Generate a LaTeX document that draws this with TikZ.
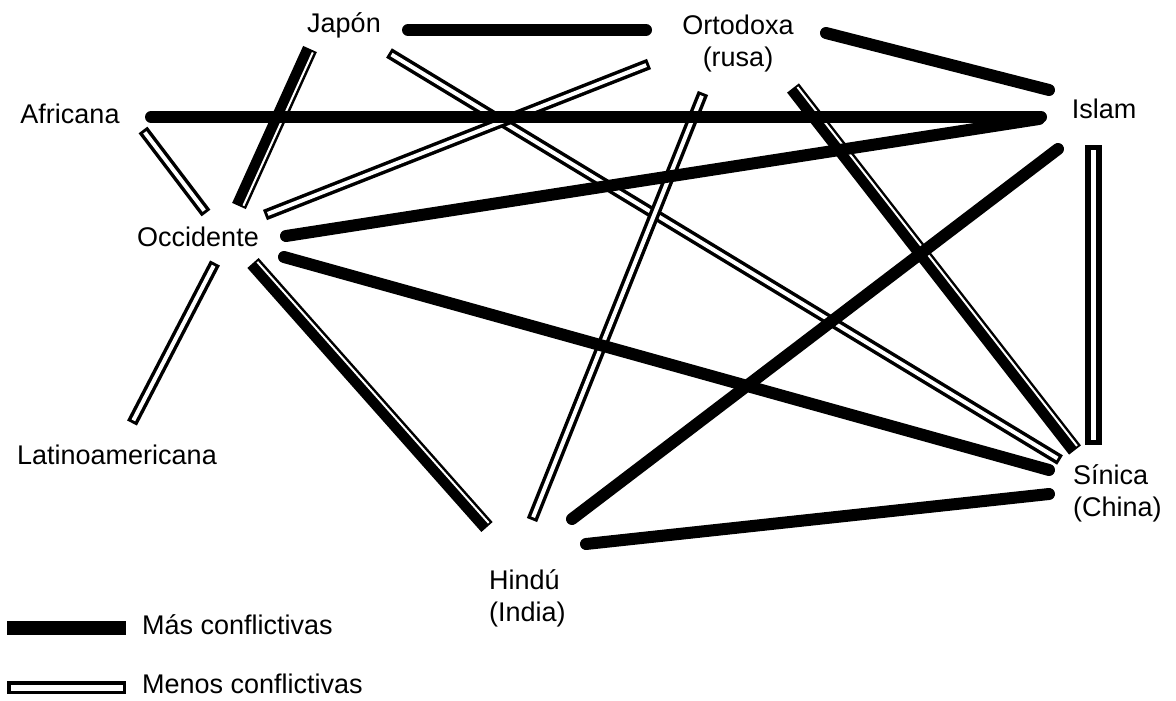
\documentclass[tikz,border=0pt]{standalone}
\usepackage{fontspec}
\setmainfont{Liberation Sans}

\begin{document}
\begin{tikzpicture}[x=1pt,y=-1pt,
  lbl/.style={inner sep=0pt,font=\fontsize{27}{32}\selectfont},
  mas/.style={line width=12pt,line cap=round},
  menos/.style={line width=11pt,line cap=butt,
    postaction={draw=white,line width=4pt,shorten <=3pt,shorten >=3pt}},
  menosancho/.style={line width=17pt,line cap=butt,
    postaction={draw=white,line width=5pt,shorten <=5pt,shorten >=5pt}},
  mixto/.style={line width=15pt,line cap=butt,
    postaction={draw=white,line width=2pt,shorten <=2pt,shorten >=2pt,transform canvas={shift={#1}}}}]
\useasboundingbox (0,0) rectangle (1176,701);

% civilizaciones
\node[lbl,anchor=base] (jap) at (344,33) {Japón};
\node[lbl,anchor=north,align=center] (ort) at (738,15) {Ortodoxa\\(rusa)};
\node[lbl,anchor=base] (afr) at (70,123) {Africana};
\node[lbl,anchor=base] (isl) at (1104,118) {Islam};
\node[lbl,anchor=base] (occ) at (198,246) {Occidente};
\node[lbl,anchor=base] (lat) at (117,464) {Latinoamericana};
\node[lbl,anchor=north west,align=left] (hin) at (489,569) {Hindú\\(India)};
\node[lbl,anchor=north west,align=left] (sin) at (1073,464) {Sínica\\(China)};

% menos conflictivas
\draw[menos] ([shift={(45,20)}]jap.base) -- ([shift={(-13,-4)}]sin.north west);
\draw[menos] ([shift={(73,7)}]afr.base) -- ([shift={(8,-33)}]occ.base);
\draw[menos] ([shift={(67,-31)}]occ.base) -- ([shift={(-89,49)}]ort.north);
\draw[menos] ([shift={(17,17)}]occ.base) -- ([shift={(15,-41)}]lat.base);
\draw[menos] ([shift={(-35,78)}]ort.north) -- ([shift={(43,-49)}]hin.north west);
\draw[menosancho] ([shift={(-10.5,27)}]isl.base) -- ([shift={(20.5,-19)}]sin.north west);

% mixtas
\draw[mixto={(3.6,1.6)}] ([shift={(-34,16)}]jap.base) -- ([shift={(41,-40)}]occ.base);
\draw[mixto={(3,-2.6)}] ([shift={(55,17)}]occ.base) -- ([shift={(-2,-42)}]hin.north west);
\draw[mixto={(3.2,-2.5)}] ([shift={(55,73)}]ort.north) -- ([shift={(2,-14)}]sin.north west);

% mas conflictivas
\draw[mas] ([shift={(64,-3)}]jap.base) -- ([shift={(-92,15)}]ort.north);
\draw[mas] ([shift={(81,-6)}]afr.base) -- ([shift={(-63,-1)}]isl.base);
\draw[mas] ([shift={(88,-10)}]occ.base) -- ([shift={(-65,1)}]isl.base);
\draw[mas] ([shift={(86,11)}]occ.base) -- ([shift={(-24,6)}]sin.north west);
\draw[mas] ([shift={(88,18)}]ort.north) -- ([shift={(-55,-28)}]isl.base);
\draw[mas] ([shift={(-46,31)}]isl.base) -- ([shift={(83,-50)}]hin.north west);
\draw[mas] ([shift={(97,-25)}]hin.north west) -- ([shift={(-24,30)}]sin.north west);

% leyenda
\fill (7,621) rectangle (126,635);
\draw[line width=3.5pt] (8.75,682.75) rectangle (124.25,692.25);
\node[lbl,anchor=base west] (lmas) at (142,634) {Más conflictivas};
\node[lbl,anchor=base west] (lmenos) at (142,693) {Menos conflictivas};

\end{tikzpicture}
\end{document}
